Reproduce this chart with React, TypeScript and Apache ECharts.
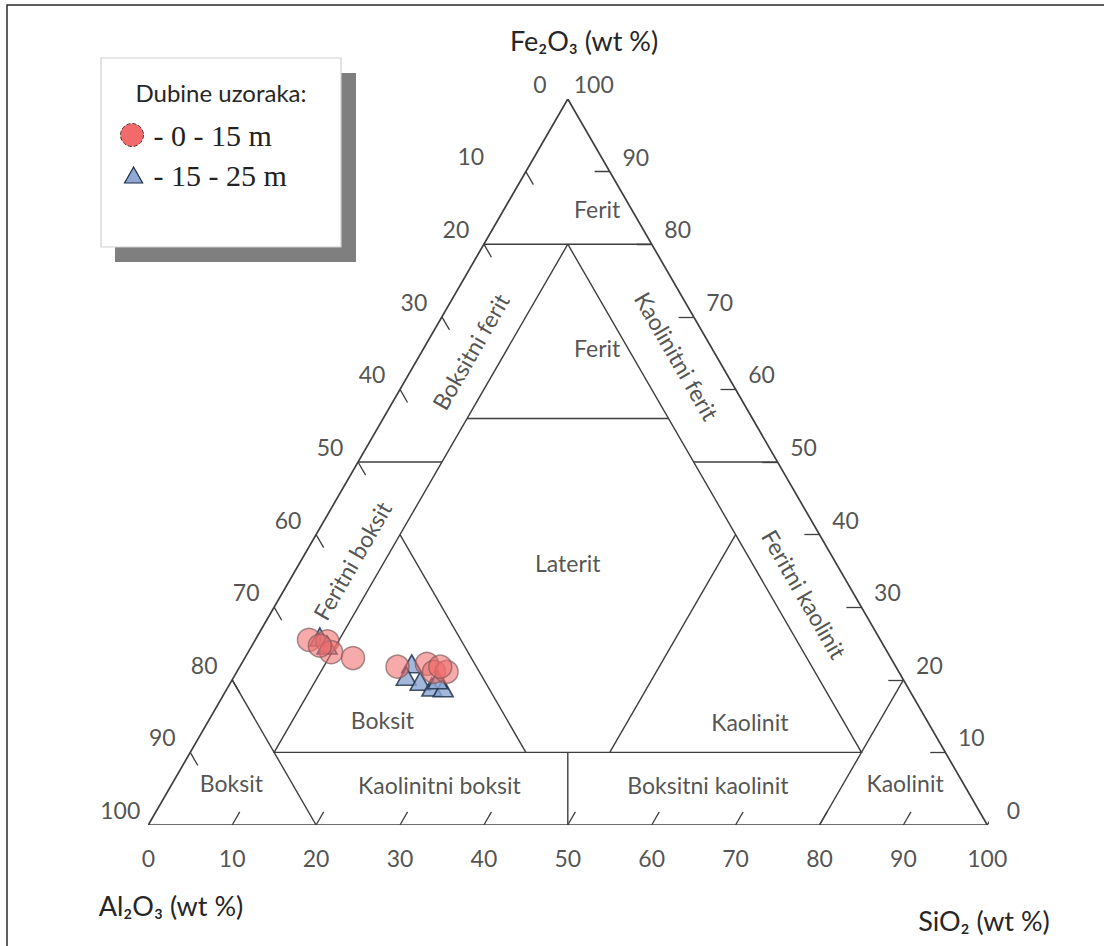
import React, { useEffect, useRef } from "react";
import * as echarts from "echarts";

// ---- data -------------------------------------------------------------
// compositions as [Al2O3, Fe2O3, SiO2] (wt %)
const DEPTH_0_15: number[][] = [
  [68.1, 25.5, 6.4],
  [66.0, 25.3, 8.7],
  [66.3, 23.8, 9.9],
  [64.1, 23.0, 12.9],
  [67.2, 24.7, 8.1],
  [59.4, 21.8, 18.8],
  [55.7, 22.2, 22.1],
  [55.4, 21.1, 23.5],
  [53.9, 21.1, 25.0],
  [54.3, 21.8, 23.9],
];
const DEPTH_15_25: number[][] = [
  [66.6, 25.9, 7.5],
  [66.3, 24.8, 8.9],
  [57.5, 22.2, 20.3],
  [59.0, 20.5, 20.5],
  [57.7, 19.8, 22.5],
  [56.7, 19.0, 24.3],
  [55.4, 18.9, 25.7],
  [55.5, 20.0, 24.5],
];

const TICK_VALUES = [0, 10, 20, 30, 40, 50, 60, 70, 80, 90, 100];
const SERIES_NAMES = ["0 - 15 m", "15 - 25 m"];

// field boundaries, each a polyline of [Al2O3, Fe2O3, SiO2]
const OUTER_TRIANGLE: number[][] = [
  [100, 0, 0],
  [0, 100, 0],
  [0, 0, 100],
  [100, 0, 0],
];
const FIELD_LINES: number[][][] = [
  [[20, 80, 0], [0, 80, 20]],
  [[50, 50, 0], [40, 50, 10]],
  [[10, 50, 40], [0, 50, 50]],
  [[10, 80, 10], [80, 10, 10], [10, 10, 80], [10, 80, 10]],
  [[34, 56, 10], [10, 56, 34]],
  [[80, 20, 0], [80, 0, 20]],
  [[0, 20, 80], [20, 0, 80]],
  [[50, 40, 10], [50, 10, 40]],
  [[10, 40, 50], [40, 10, 50]],
  [[45, 10, 45], [50, 0, 50]],
];

// field names with anchor [x, y] in diagram units and rotation
const FIELD_NAMES = ["Ferit", "Ferit", "Laterit", "Boksit", "Kaolinit", "Boksit", "Kaolinitni boksit", "Boksitni kaolinit", "Kaolinit", "Boksitni ferit", "Kaolinitni ferit", "Feritni boksit", "Feritni kaolinit"];
const FIELD_ANCHORS: number[][] = [
  [53.5, 84.8], [53.5, 65.7], [50.0, 36.1], [27.9, 14.5], [71.7, 14.2],
  [9.9, 5.8], [34.7, 5.5], [66.7, 5.5], [90.2, 5.8],
  [38.4, 65.2], [63.0, 64.6], [24.3, 36.4], [78.2, 31.8],
];
const FIELD_ROTATIONS = [0, 0, 0, 0, 0, 0, 0, 0, 0, 60, -60, 60, -60];

// ---- helpers ----------------------------------------------------------
const tern = (p: number[]): number[] => {
  const s = p[0] + p[1] + p[2];
  const fe = (p[1] / s) * 100;
  const si = (p[2] / s) * 100;
  return [si + fe / 2, fe];
};

const FONT = "Lato, 'Open Sans', sans-serif";
const TICK_LEN = 1.8;
const LINE_COLOR = "#3f3f3f";

export default function App() {
  const ref = useRef<HTMLDivElement>(null);

  useEffect(() => {
    if (!ref.current) return;
    const chart = echarts.init(ref.current, undefined, { renderer: "svg" });

    const boundaryData = [OUTER_TRIANGLE, ...FIELD_LINES].map((pl, i) => ({
      coords: pl.map(tern),
      lineStyle: { width: i === 0 ? 1.7 : 1.4, color: LINE_COLOR, opacity: 1 },
    }));

    const tickData: any[] = [];
    TICK_VALUES.forEach((v) => {
      if (v > 0)
        tickData.push({ coords: [tern([100 - v, 0, v]), tern([100 - v - TICK_LEN, TICK_LEN, v])] });
      if (v > 0 && v < 100) {
        tickData.push({ coords: [tern([v, 100 - v, 0]), tern([v, 100 - v - TICK_LEN, TICK_LEN])] });
        tickData.push({ coords: [tern([0, v, 100 - v]), tern([TICK_LEN, v, 100 - v - TICK_LEN])] });
      }
    });

    const labelData: any[] = [];
    TICK_VALUES.forEach((v) => {
      labelData.push({ value: tern([100 - v, 0, v]), label: { formatter: String(v), offset: [0, 33] } });
      labelData.push({
        value: tern([v, 100 - v, 0]),
        label: { formatter: String(v), offset: v === 10 ? [-55, -16] : [-28, -15] },
      });
      labelData.push({ value: tern([0, v, 100 - v]), label: { formatter: String(v), offset: [26, -15] } });
    });

    const fieldData = FIELD_NAMES.map((n, i) => ({
      value: FIELD_ANCHORS[i],
      label: { formatter: n, rotate: FIELD_ROTATIONS[i] },
    }));

    const legendText = { fontFamily: "'Liberation Serif', 'Times New Roman', serif", fontSize: 30, color: "#222" };

    const option: any = {
      animation: false,
      backgroundColor: "#ffffff",
      grid: { left: 148.3, right: 116.7, top: 99, bottom: 121 },
      xAxis: { type: "value", min: 0, max: 100, show: false },
      yAxis: { type: "value", min: 0, max: 100, show: false },
      legend: [
        {
          data: [
            {
              name: SERIES_NAMES[0],
              icon: "circle",
              itemStyle: { color: "#f26a6a", borderColor: "#4a3a3a", borderWidth: 1, borderType: "dashed", opacity: 1 },
            },
          ],
          left: 120,
          top: 120,
          padding: 0,
          itemWidth: 23,
          itemHeight: 23,
          selectedMode: false,
          formatter: "- {name}",
          textStyle: { ...legendText, padding: [0, 0, 0, 5] },
        },
        {
          data: [
            {
              name: SERIES_NAMES[1],
              icon: "triangle",
              itemStyle: { color: "#8fa9d4", borderColor: "#1c2e4a", borderWidth: 1.2, opacity: 1 },
            },
          ],
          left: 124,
          top: 160,
          padding: 0,
          itemWidth: 18,
          itemHeight: 16,
          selectedMode: false,
          formatter: "- {name}",
          textStyle: { ...legendText, padding: [0, 0, 0, 6] },
        },
      ],
      graphic: [
        {
          type: "rect",
          z: 0,
          silent: true,
          shape: { x: 7, y: 5, width: 1120, height: 980 },
          style: { fill: "none", stroke: "#2a2a2a", lineWidth: 1.5 },
        },
        { type: "rect", z: 0, silent: true, shape: { x: 115, y: 73, width: 241, height: 189 }, style: { fill: "#7f7f7f" } },
        {
          type: "rect",
          z: 0,
          silent: true,
          shape: { x: 101, y: 58, width: 240, height: 189 },
          style: { fill: "#ffffff", stroke: "#cfcfcf", lineWidth: 1.2 },
        },
        {
          type: "text",
          z: 1,
          x: 221,
          y: 92,
          style: { text: "Dubine uzoraka:", font: `24px ${FONT}`, fill: "#262626", align: "center", verticalAlign: "middle" },
        },
        {
          type: "text",
          x: 584,
          y: 40,
          style: { text: "Fe₂O₃ (wt %)", font: `27px ${FONT}`, fill: "#262626", align: "center", verticalAlign: "middle" },
        },
        {
          type: "text",
          x: 171,
          y: 905,
          style: { text: "Al₂O₃ (wt %)", font: `27px ${FONT}`, fill: "#262626", align: "center", verticalAlign: "middle" },
        },
        {
          type: "text",
          x: 984,
          y: 920,
          style: { text: "SiO₂ (wt %)", font: `27px ${FONT}`, fill: "#262626", align: "center", verticalAlign: "middle" },
        },
      ],
      series: [
        {
          type: "lines",
          name: "boundaries",
          coordinateSystem: "cartesian2d",
          polyline: true,
          silent: true,
          data: boundaryData,
          z: 2,
        },
        {
          type: "lines",
          name: "ticks",
          coordinateSystem: "cartesian2d",
          silent: true,
          data: tickData,
          lineStyle: { width: 1.3, color: LINE_COLOR, opacity: 1 },
          z: 2,
        },
        {
          type: "scatter",
          name: "tick labels",
          silent: true,
          clip: false,
          symbolSize: 0,
          data: labelData,
          label: {
            show: true,
            position: "inside",
            fontFamily: FONT,
            fontSize: 23,
            color: "#262626",
            align: "center",
            verticalAlign: "middle",
          },
          z: 3,
        },
        {
          type: "scatter",
          name: "field names",
          silent: true,
          clip: false,
          symbolSize: 0,
          data: fieldData,
          label: {
            show: true,
            position: "inside",
            fontFamily: FONT,
            fontSize: 23,
            color: "#262626",
            align: "center",
            verticalAlign: "middle",
          },
          z: 3,
        },
        {
          type: "scatter",
          name: SERIES_NAMES[1],
          symbol: "triangle",
          symbolSize: [20, 18],
          clip: false,
          data: DEPTH_15_25.map(tern),
          itemStyle: { color: "#8aa6d2", borderColor: "#1a2a44", borderWidth: 1.6 },
          z: 4,
        },
        {
          type: "scatter",
          name: SERIES_NAMES[0],
          symbol: "circle",
          symbolSize: 23,
          clip: false,
          data: DEPTH_0_15.map(tern),
          itemStyle: { color: "rgba(240,108,108,0.72)", borderColor: "rgba(125,90,90,0.85)", borderWidth: 1.5 },
          z: 5,
        },
      ],
    };

    chart.setOption(option);
    return () => chart.dispose();
  }, []);

  return (
    <div
      ref={ref}
      style={{ position: "absolute", left: 0, top: 0, width: 1104, height: 946, background: "#fff" }}
    />
  );
}
